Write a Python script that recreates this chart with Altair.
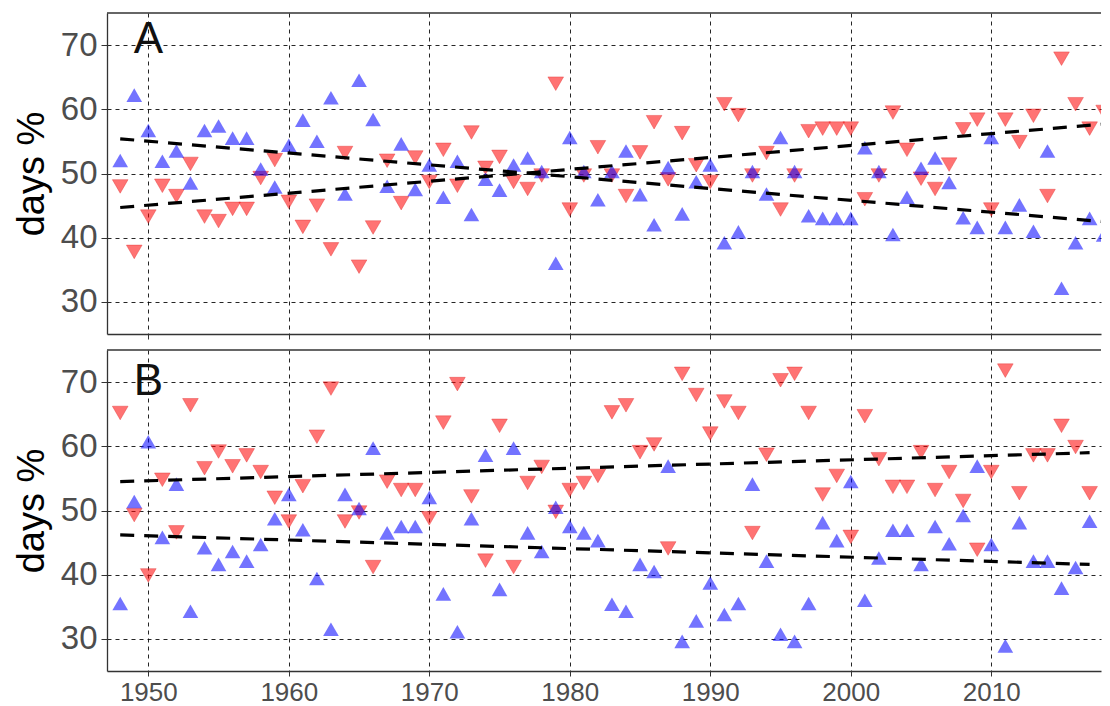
import altair as alt
import pandas as pd

# ---------------- data ----------------
years_A = list(range(1948, 2019))
blue_A = [51.7, 61.9, 56.4, 51.6, 53.2, 48.2, 56.4, 57.1, 55.2, 55.2,
          50.4, 47.6, 54.1, 58.0, 54.7, 61.5, 46.5, 64.2, 58.1, 47.7,
          54.3, 47.2, 51.0, 46.0, 51.6, 43.3, 48.8, 47.1, 51.0, 52.1,
          50.0, 35.7, 55.3, 50.0, 45.6, 50.0, 53.2, 46.4, 41.7, 50.6,
          43.4, 48.4, 51.0, 38.9, 40.6, 50.0, 46.5, 55.3, 50.0, 43.1,
          42.7, 42.7, 42.7, 53.7, 50.0, 40.2, 46.0, 50.5, 52.1, 48.3,
          42.8, 41.3, 55.3, 41.3, 44.8, 40.7, 53.2, 31.8, 38.9, 42.7,
          40.1]
red_A = [48.3, 38.1, 43.6, 48.4, 46.8, 51.8, 43.6, 42.9, 44.8, 44.8,
         49.6, 52.4, 45.9, 42.0, 45.3, 38.5, 53.5, 35.8, 41.9, 52.3,
         45.7, 52.8, 49.0, 54.0, 48.4, 56.7, 51.2, 52.9, 49.0, 47.9,
         50.0, 64.3, 44.7, 50.0, 54.4, 50.0, 46.8, 53.6, 58.3, 49.4,
         56.6, 51.6, 49.0, 61.1, 59.4, 50.0, 53.5, 44.7, 50.0, 56.9,
         57.3, 57.3, 57.3, 46.3, 50.0, 59.8, 54.0, 49.5, 47.9, 51.7,
         57.2, 58.7, 44.7, 58.7, 55.2, 59.3, 46.8, 68.2, 61.1, 57.3,
         59.9]

years_B = list(range(1948, 2018))
blue_B = [35.2, 51.1, 60.4, 45.5, 53.8, 34.0, 43.9, 41.3, 43.3, 41.8,
          44.4, 48.4, 52.2, 46.7, 39.1, 31.2, 52.2, 50.0, 59.4, 46.2,
          47.2, 47.2, 51.7, 36.7, 30.8, 48.4, 58.3, 37.4, 59.4, 46.2,
          43.3, 50.2, 47.2, 46.2, 45.0, 35.1, 34.0, 41.3, 40.2, 56.6,
          29.3, 32.5, 38.4, 33.5, 35.2, 53.8, 41.8, 30.4, 29.3, 35.2,
          47.8, 45.0, 54.2, 35.7, 42.3, 46.6, 46.6, 41.3, 47.2, 44.5,
          48.9, 56.6, 44.4, 28.6, 47.8, 41.8, 41.8, 37.6, 40.8, 48.0]
red_B = [65.5, 49.6, 40.2, 55.1, 46.9, 66.7, 56.9, 59.5, 57.2, 58.9,
         56.3, 52.3, 48.6, 54.1, 61.8, 69.3, 48.6, 50.0, 41.5, 54.8,
         53.5, 53.5, 49.1, 64.0, 70.0, 52.5, 42.5, 63.5, 41.5, 54.6,
         57.1, 50.1, 53.5, 54.6, 55.7, 65.6, 66.7, 59.4, 60.6, 44.4,
         71.6, 68.3, 62.3, 67.3, 65.5, 46.8, 59.0, 70.6, 71.6, 65.5,
         52.8, 55.7, 46.2, 65.0, 58.3, 54.0, 54.0, 59.4, 53.5, 56.3,
         51.8, 44.2, 56.3, 72.1, 53.0, 58.9, 58.9, 63.5, 60.2, 53.0]

trend_years_A = [1948, 2018]
trend_blue_A = [55.4, 42.5]
trend_red_A = [44.7, 57.7]
trend_years_B = [1948, 2017]
trend_blue_B = [46.2, 41.6]
trend_red_B = [54.5, 59.0]

panel_letters = ["A", "B"]
letter_x = [1950, 1950]
letter_y = [70.75, 70.0]

x_ticks = [1950, 1960, 1970, 1980, 1990, 2000, 2010]
y_ticks = [30, 40, 50, 60, 70]
x_domain = [1947.06, 2017.81]   # right side of the figure is cut off
y_domain = [25, 75]
y_title = "days %"

FONT = "Liberation Sans, Arial, Helvetica, sans-serif"
BLUE = "#0000ff"
RED = "#ff0000"
BORDER = "#333333"
W, H = 994, 321


def panel(years, blue, red, tyears, tblue, tred, letter, lx, ly, show_x_labels):
    pts = pd.DataFrame({"year": years, "blue": blue, "red": red})
    tr = pd.DataFrame({"year": tyears, "blue": tblue, "red": tred})
    lab = pd.DataFrame({"year": [lx], "v": [ly], "t": [letter]})

    xaxis = alt.Axis(values=x_ticks, format="d", title=None, labels=show_x_labels,
                     grid=True, gridColor="#000000", gridDash=[4, 4], gridWidth=1,
                     gridOpacity=0.85, domain=True, domainColor=BORDER, domainWidth=1.3,
                     tickColor=BORDER, tickSize=5, tickWidth=1, labelFontSize=26,
                     labelPadding=3, labelColor="#4d4d4d", labelFont=FONT)
    yaxis = alt.Axis(values=y_ticks, title=y_title, grid=True, gridColor="#000000",
                     gridDash=[4, 4], gridWidth=1, gridOpacity=0.85, domain=True,
                     domainColor=BORDER, domainWidth=1.3,
                     tickColor=BORDER, tickSize=6, tickWidth=1, labelFontSize=33,
                     labelPadding=4, labelColor="#4d4d4d", labelFont=FONT,
                     titleFont=FONT, titleFontSize=38, titleFontWeight="normal",
                     titleColor="#000000", titlePadding=9)
    xs = alt.Scale(domain=x_domain, nice=False, zero=False)
    ys = alt.Scale(domain=y_domain, nice=False, zero=False)

    xenc = alt.X("year:Q", scale=xs, axis=xaxis)

    red_pts = alt.Chart(pts).mark_point(
        shape="triangle-down", filled=True, size=245, fill=RED, fillOpacity=0.55,
        stroke="#e03030", strokeOpacity=0.5, strokeWidth=0.8, yOffset=2, clip=True
    ).encode(x=xenc, y=alt.Y("red:Q", scale=ys, axis=yaxis))

    blue_pts = alt.Chart(pts).mark_point(
        shape="triangle-up", filled=True, size=245, fill=BLUE, fillOpacity=0.55,
        strokeWidth=0, yOffset=-2, clip=True
    ).encode(x=xenc, y=alt.Y("blue:Q", scale=ys, axis=yaxis))

    lines = alt.Chart(tr).transform_fold(["blue", "red"], as_=["series", "val"]).mark_line(
        color="black", strokeDash=[14, 10], strokeWidth=3.2, clip=True
    ).encode(x=xenc, y=alt.Y("val:Q", scale=ys, axis=yaxis), detail="series:N")

    txt = alt.Chart(lab).mark_text(
        font=FONT, fontSize=44, color="#111111", align="center", baseline="middle"
    ).encode(x=xenc, y=alt.Y("v:Q", scale=ys, axis=yaxis), text="t:N")

    # top border of the panel (the right edge is cut off in the figure)
    top = alt.Chart(lab).mark_rule(color=BORDER, strokeWidth=1.3).encode(
        x=alt.value(0), x2=alt.value(W), y=alt.value(0))

    return alt.layer(red_pts, blue_pts, lines, txt, top).properties(width=W, height=H)


pA = panel(years_A, blue_A, red_A, trend_years_A, trend_blue_A, trend_red_A,
           panel_letters[0], letter_x[0], letter_y[0], False)
pB = panel(years_B, blue_B, red_B, trend_years_B, trend_blue_B, trend_red_B,
           panel_letters[1], letter_x[1], letter_y[1], True)

chart = alt.vconcat(pA, pB, spacing=16, bounds="flush").properties(
    padding={"left": 5, "top": 4, "right": 0, "bottom": 0},
    background="white",
).configure_view(strokeOpacity=0)

chart.save("out.html", embed_options={"renderer": "svg", "actions": False})
